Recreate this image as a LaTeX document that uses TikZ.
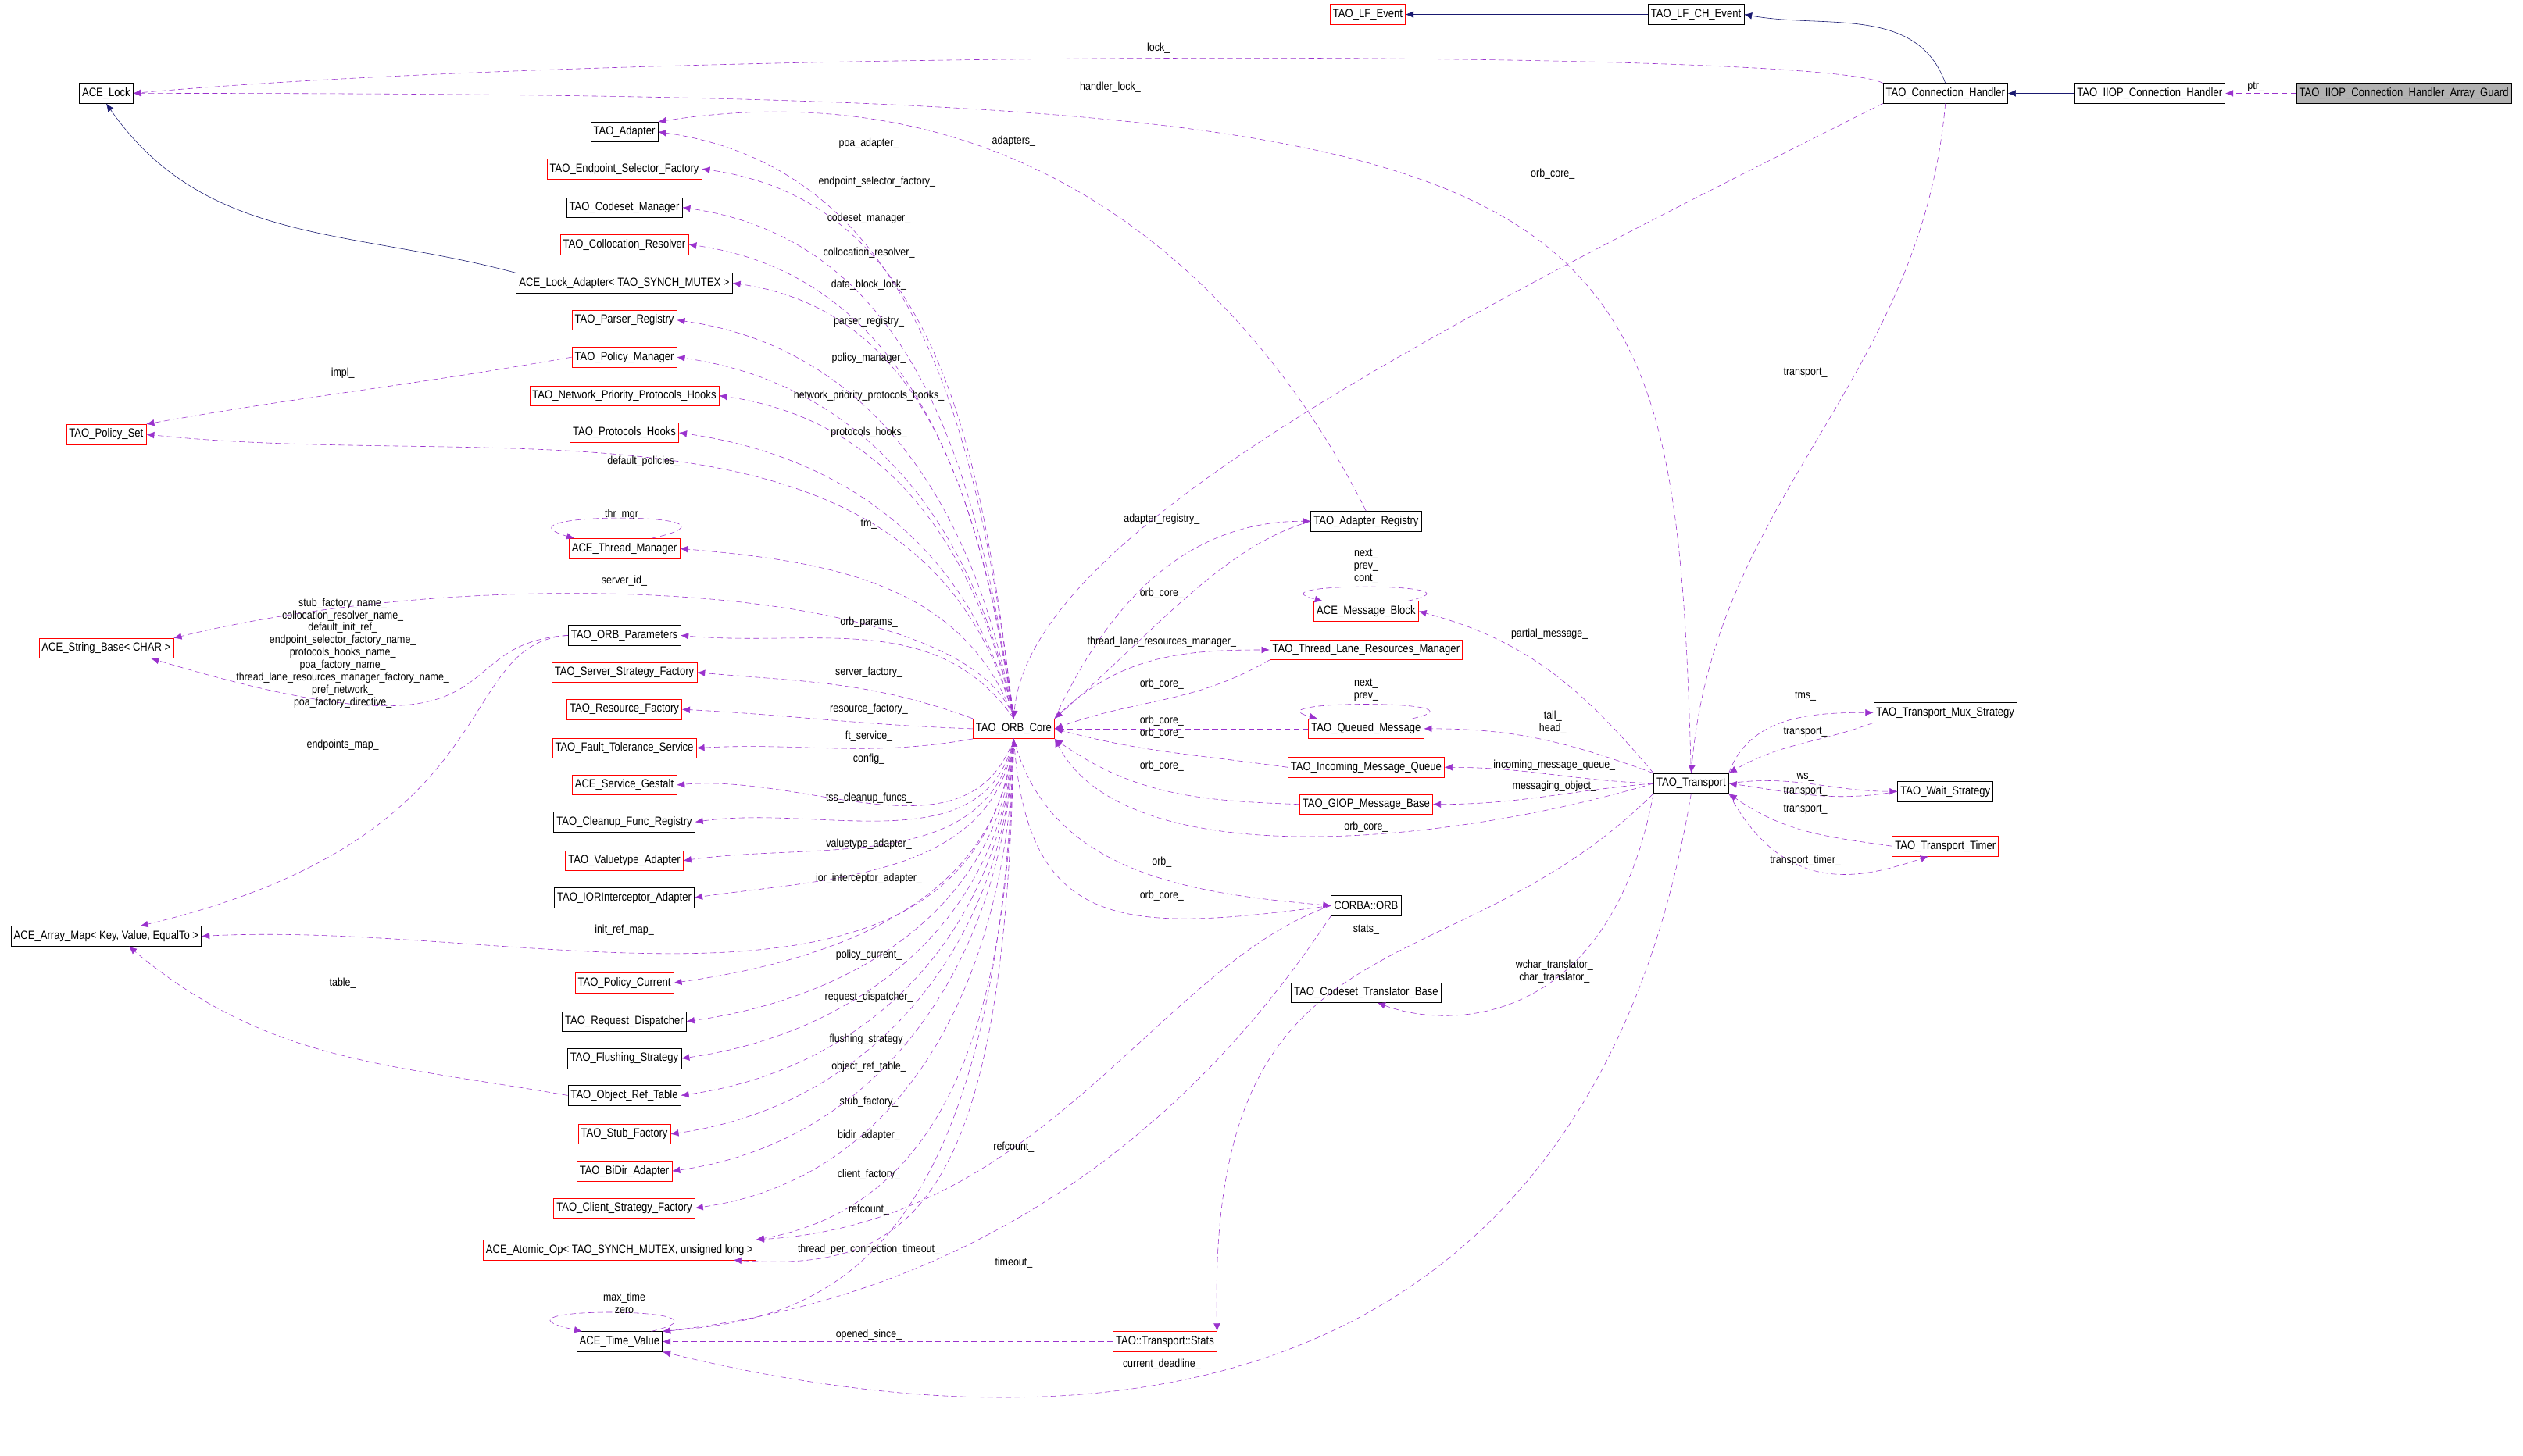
\documentclass[tikz,border=0pt]{standalone}
\usepackage{fontspec}
\setmainfont{Liberation Sans}[FakeStretch=0.86]
\usetikzlibrary{arrows.meta}
\definecolor{refcol}{HTML}{9A32CD}
\definecolor{inhcol}{HTML}{191970}
\tikzset{
  cls/.style={draw=black, fill=white, inner sep=2.5pt, minimum height=0.62cm, font=\fontsize{10.5}{11}\selectfont},
  rcls/.style={cls, draw=red},
  gcls/.style={cls, fill=gray!60},
  lbl/.style={inner sep=0pt, align=center, font=\fontsize{10}{11}\selectfont},
  ref/.style={draw=refcol, dash pattern=on 5pt off 3pt, -{Latex[length=7pt,width=6pt]}},
  inh/.style={draw=inhcol, -{Latex[length=7pt,width=6pt]}}
}
\begin{document}
\begin{tikzpicture}[x=0.05cm, y=-0.05cm]
  \useasboundingbox (0,0) rectangle (1568,905);
  % classes, top row
  \node[rcls] (lfev) at (850,9) {TAO\_LF\_Event};
  \node[cls] (lfch) at (1054,9) {TAO\_LF\_CH\_Event};
  \node[cls] (conh) at (1209,58) {TAO\_Connection\_Handler};
  \node[cls] (iiop) at (1336,58) {TAO\_IIOP\_Connection\_Handler};
  \node[gcls] (guard) at (1494,58) {TAO\_IIOP\_Connection\_Handler\_Array\_Guard};
  \node[cls] (lock) at (66,58) {ACE\_Lock};
  % left column
  \node[cls] (adapter) at (388,82) {TAO\_Adapter};
  \node[rcls] (esf) at (388,105) {TAO\_Endpoint\_Selector\_Factory};
  \node[cls] (csm) at (388,129) {TAO\_Codeset\_Manager};
  \node[rcls] (colres) at (388,152) {TAO\_Collocation\_Resolver};
  \node[cls] (lockad) at (388,176) {ACE\_Lock\_Adapter< TAO\_SYNCH\_MUTEX >};
  \node[rcls] (parser) at (388,199) {TAO\_Parser\_Registry};
  \node[rcls] (polmgr) at (388,222) {TAO\_Policy\_Manager};
  \node[rcls] (nph) at (388,246) {TAO\_Network\_Priority\_Protocols\_Hooks};
  \node[rcls] (ph) at (388,269) {TAO\_Protocols\_Hooks};
  \node[rcls] (polset) at (66,270) {TAO\_Policy\_Set};
  \node[rcls] (thr) at (388,341) {ACE\_Thread\_Manager};
  \node[rcls] (strbase) at (66,403) {ACE\_String\_Base< CHAR >};
  \node[cls] (params) at (388,395) {TAO\_ORB\_Parameters};
  \node[rcls] (ssf) at (388,418) {TAO\_Server\_Strategy\_Factory};
  \node[rcls] (rf) at (388,441) {TAO\_Resource\_Factory};
  \node[rcls] (fts) at (388,465) {TAO\_Fault\_Tolerance\_Service};
  \node[rcls] (gestalt) at (388,488) {ACE\_Service\_Gestalt};
  \node[cls] (cfr) at (388,511) {TAO\_Cleanup\_Func\_Registry};
  \node[rcls] (vta) at (388,535) {TAO\_Valuetype\_Adapter};
  \node[cls] (iora) at (388,558) {TAO\_IORInterceptor\_Adapter};
  \node[cls] (amap) at (66,582) {ACE\_Array\_Map< Key, Value, EqualTo >};
  \node[rcls] (pcur) at (388,611) {TAO\_Policy\_Current};
  \node[cls] (rdisp) at (388,635) {TAO\_Request\_Dispatcher};
  \node[cls] (flush) at (388,658) {TAO\_Flushing\_Strategy};
  \node[cls] (ort) at (388,681) {TAO\_Object\_Ref\_Table};
  \node[rcls] (stubf) at (388,705) {TAO\_Stub\_Factory};
  \node[rcls] (bidir) at (388,728) {TAO\_BiDir\_Adapter};
  \node[rcls] (csf) at (388,751) {TAO\_Client\_Strategy\_Factory};
  \node[rcls] (atomic) at (385,777) {ACE\_Atomic\_Op< TAO\_SYNCH\_MUTEX, unsigned long >};
  \node[cls] (timev) at (385,834) {ACE\_Time\_Value};
  \node[rcls] (core) at (630,453) {TAO\_ORB\_Core};
  % middle column
  \node[cls] (areg) at (849,324) {TAO\_Adapter\_Registry};
  \node[rcls] (mblock) at (849,380) {ACE\_Message\_Block};
  \node[rcls] (tlrm) at (849,404) {TAO\_Thread\_Lane\_Resources\_Manager};
  \node[rcls] (qmsg) at (849,453) {TAO\_Queued\_Message};
  \node[rcls] (imq) at (849,477) {TAO\_Incoming\_Message\_Queue};
  \node[rcls] (giop) at (849,500) {TAO\_GIOP\_Message\_Base};
  \node[cls] (orb) at (849,563) {CORBA::ORB};
  \node[cls] (cstb) at (849,617) {TAO\_Codeset\_Translator\_Base};
  \node[rcls] (stats) at (724,834) {TAO::Transport::Stats};
  \node[cls] (trans) at (1051,487) {TAO\_Transport};
  \node[cls] (mux) at (1209,443) {TAO\_Transport\_Mux\_Strategy};
  \node[cls] (wait) at (1209,492) {TAO\_Wait\_Strategy};
  \node[rcls] (timer) at (1209,526) {TAO\_Transport\_Timer};

  % inheritance
  \draw[inh] (lfch) -- (lfev);
  \draw[inh] (conh.north) to[out=110,in=-10] (lfch.east);
  \draw[inh] (iiop) -- (conh);
  \draw[inh] (lockad.north west) to[out=165,in=-55] (lock.south);

  % top references
  \draw[ref] (guard) -- (iiop);
  \node[lbl] (lptr) at (1402,54) {ptr\_};
  \draw[ref] (conh.north west) .. controls (1130,30) and (400,30) .. (lock.east);
  \node[lbl] (llock) at (720,30) {lock\_};
  \draw[ref] (trans.north) .. controls (1040,90) and (1010,58) .. (lock.east);
  \node[lbl] (lhlock) at (690,54) {handler\_lock\_};
  \draw[ref] (conh.south west) .. controls (900,200) and (640,330) .. (core.north);
  \node[lbl] (lcore1) at (965,108) {orb\_core\_};
  \draw[ref] (conh.south) to[out=-95,in=85] (trans.north);
  \node[lbl] (ltr1) at (1122,232) {transport\_};
  \draw[ref] (areg.north) .. controls (780,180) and (640,40) .. (adapter.north east);
  \node[lbl] (ladapters) at (630,88) {adapters\_};

  % ORB core to left column
  \draw[ref] (core.north) to[out=97,in=-8] (adapter.east);
  \draw[ref] (core.north) to[out=97,in=-8] (esf.east);
  \draw[ref] (core.north) to[out=98,in=-8] (csm.east);
  \draw[ref] (core.north) to[out=98,in=-8] (colres.east);
  \draw[ref] (core.north) to[out=99,in=-8] (lockad.east);
  \draw[ref] (core.north) to[out=100,in=-8] (parser.east);
  \draw[ref] (core.north) to[out=101,in=-8] (polmgr.east);
  \draw[ref] (core.north) to[out=102,in=-8] (nph.east);
  \draw[ref] (core.north) to[out=104,in=-8] (ph.east);
  \draw[ref] (core.north) to[out=105,in=-6] (polset.east);
  \draw[ref] (core.north) to[out=110,in=-5] (thr.east);
  \draw[ref] (core.north) .. controls (600,360) and (300,350) .. (strbase.north east);
  \draw[ref] (core.north) to[out=125,in=-5] (params.east);
  \draw[ref] (core.north west) to[out=160,in=-5] (ssf.east);
  \draw[ref] (core.west) to[out=178,in=-3] (rf.east);
  \draw[ref] (core.south west) to[out=190,in=3] (fts.east);
  \draw[ref] (core.south) to[out=-110,in=5] (gestalt.east);
  \draw[ref] (core.south) to[out=-103,in=8] (cfr.east);
  \draw[ref] (core.south) to[out=-100,in=8] (vta.east);
  \draw[ref] (core.south) to[out=-98,in=8] (iora.east);
  \draw[ref] (core.south) to[out=-97,in=3] (amap.east);
  \draw[ref] (core.south) to[out=-95,in=8] (pcur.east);
  \draw[ref] (core.south) to[out=-94,in=8] (rdisp.east);
  \draw[ref] (core.south) to[out=-93,in=8] (flush.east);
  \draw[ref] (core.south) to[out=-93,in=8] (ort.east);
  \draw[ref] (core.south) to[out=-92,in=8] (stubf.east);
  \draw[ref] (core.south) to[out=-92,in=8] (bidir.east);
  \draw[ref] (core.south) to[out=-91,in=8] (csf.east);
  \draw[ref] (core.south) to[out=-91,in=10] (atomic.north east);
  \draw[ref] (core.south) .. controls (625,760) and (560,790) .. ([xshift=-20pt]atomic.south east);
  \draw[ref] (core.south) .. controls (620,800) and (500,820) .. (timev.north east);
  \node[lbl] (l01) at (540,89) {poa\_adapter\_};
  \node[lbl] (l02) at (545,113) {endpoint\_selector\_factory\_};
  \node[lbl] (l03) at (540,136) {codeset\_manager\_};
  \node[lbl] (l04) at (540,157) {collocation\_resolver\_};
  \node[lbl] (l05) at (540,177) {data\_block\_lock\_};
  \node[lbl] (l06) at (540,200) {parser\_registry\_};
  \node[lbl] (l07) at (540,223) {policy\_manager\_};
  \node[lbl] (l08) at (540,246) {network\_priority\_protocols\_hooks\_};
  \node[lbl] (l09) at (540,269) {protocols\_hooks\_};
  \node[lbl] (l10) at (400,287) {default\_policies\_};
  \node[lbl] (l11) at (540,326) {tm\_};
  \node[lbl] (l12) at (388,361) {server\_id\_};
  \node[lbl] (l13) at (540,387) {orb\_params\_};
  \node[lbl] (l14) at (540,418) {server\_factory\_};
  \node[lbl] (l15) at (540,441) {resource\_factory\_};
  \node[lbl] (l16) at (540,458) {ft\_service\_};
  \node[lbl] (l17) at (540,472) {config\_};
  \node[lbl] (l18) at (540,496) {tss\_cleanup\_funcs\_};
  \node[lbl] (l19) at (540,525) {valuetype\_adapter\_};
  \node[lbl] (l20) at (540,546) {ior\_interceptor\_adapter\_};
  \node[lbl] (l21) at (388,578) {init\_ref\_map\_};
  \node[lbl] (l22) at (540,594) {policy\_current\_};
  \node[lbl] (l23) at (540,620) {request\_dispatcher\_};
  \node[lbl] (l24) at (540,646) {flushing\_strategy\_};
  \node[lbl] (l25) at (540,663) {object\_ref\_table\_};
  \node[lbl] (l26) at (540,685) {stub\_factory\_};
  \node[lbl] (l27) at (540,706) {bidir\_adapter\_};
  \node[lbl] (l28) at (540,730) {client\_factory\_};
  \node[lbl] (l29) at (540,752) {refcount\_};
  \node[lbl] (l30) at (540,777) {thread\_per\_connection\_timeout\_};

  % left side among classes
  \draw[ref] (polmgr.west) to[out=190,in=10] (polset.north east);
  \node[lbl] (limpl) at (213,232) {impl\_};
  \draw[ref] (params.west) .. controls (270,400) and (330,480) .. ([xshift=-20pt]strbase.south east);
  \node[lbl] (lnames) at (213,406) {stub\_factory\_name\_\\collocation\_resolver\_name\_\\default\_init\_ref\_\\endpoint\_selector\_factory\_name\_\\protocols\_hooks\_name\_\\poa\_factory\_name\_\\thread\_lane\_resources\_manager\_factory\_name\_\\pref\_network\_\\poa\_factory\_directive\_};
  \draw[ref] (params.west) .. controls (280,400) and (320,520) .. ([xshift=30pt]amap.north);
  \node[lbl] (lemap) at (213,463) {endpoints\_map\_};
  \draw[ref] (ort.west) to[out=170,in=-40] ([xshift=20pt]amap.south);
  \node[lbl] (ltable) at (213,611) {table\_};

  % self loops
  \draw[ref] ([xshift=-25pt]thr.north east) .. controls (480,318) and (300,318) .. ([xshift=5pt]thr.north west);
  \node[lbl] (lthr) at (388,320) {thr\_mgr\_};
  \draw[ref] ([xshift=-10pt]mblock.north east) .. controls (930,362) and (775,362) .. ([xshift=8pt]mblock.north west);
  \node[lbl] (lmb) at (849,352) {next\_\\prev\_\\cont\_};
  \draw[ref] ([xshift=-10pt]qmsg.north east) .. controls (930,435) and (775,435) .. ([xshift=8pt]qmsg.north west);
  \node[lbl] (lqm) at (849,429) {next\_\\prev\_};
  \draw[ref] ([xshift=-10pt]timev.north east) .. controls (470,812) and (290,812) .. ([xshift=5pt]timev.north west);
  \node[lbl] (ltv) at (388,810) {max\_time\\zero};

  % ORB core and middle column
  \draw[ref] (core.north east) to[out=65,in=180] (areg.west);
  \node[lbl] (l31) at (722,323) {adapter\_registry\_};
  \draw[ref] (areg.west) .. controls (760,340) and (720,390) .. (core.north east);
  \node[lbl] (l32) at (722,369) {orb\_core\_};
  \draw[ref] (core.north east) to[out=45,in=180] (tlrm.west);
  \node[lbl] (l33) at (722,399) {thread\_lane\_resources\_manager\_};
  \draw[ref] (tlrm.south west) to[out=210,in=20] (core.east);
  \node[lbl] (l34) at (722,425) {orb\_core\_};
  \draw[ref] (qmsg.west) -- (core.east);
  \node[lbl] (l35) at (722,452) {orb\_core\_\\orb\_core\_};
  \draw[ref] (imq.west) to[out=172,in=-15] (core.east);
  \node[lbl] (l36) at (722,476) {orb\_core\_};
  \draw[ref] (giop.west) to[out=178,in=-35] (core.south east);
  \draw[ref] (trans.west) .. controls (900,525) and (700,545) .. (core.south east);
  \node[lbl] (l37) at (849,514) {orb\_core\_};
  \draw[ref] (core.south) to[out=-75,in=175] (orb.west);
  \node[lbl] (l38) at (722,536) {orb\_};
  \draw[ref] (orb.west) .. controls (700,580) and (640,580) .. (core.south);
  \node[lbl] (l39) at (722,557) {orb\_core\_};
  \draw[ref] (orb.west) .. controls (720,600) and (650,760) .. (atomic.north east);
  \node[lbl] (l40) at (630,713) {refcount\_};
  \draw[ref] (orb.south west) .. controls (780,640) and (660,800) .. (timev.north east);
  \node[lbl] (l41) at (630,785) {timeout\_};
  \draw[ref] (stats) -- (timev);
  \node[lbl] (l42) at (540,830) {opened\_since\_};

  % transport
  \draw[ref] (trans.north west) to[out=130,in=-15] (mblock.east);
  \node[lbl] (l43) at (963,394) {partial\_message\_};
  \draw[ref] (trans.north west) to[out=160,in=0] (qmsg.east);
  \node[lbl] (l44) at (965,449) {tail\_\\head\_};
  \draw[ref] (trans.west) to[out=178,in=0] (imq.east);
  \node[lbl] (l45) at (966,476) {incoming\_message\_queue\_};
  \draw[ref] (trans.west) to[out=185,in=0] (giop.east);
  \node[lbl] (l46) at (966,489) {messaging\_object\_};
  \draw[ref] (trans.north east) to[out=70,in=180] (mux.west);
  \node[lbl] (l47) at (1122,433) {tms\_};
  \draw[ref] (mux.south west) to[out=200,in=30] (trans.north east);
  \node[lbl] (l48) at (1122,455) {transport\_};
  \draw[ref] (trans.east) to[out=8,in=180] (wait.west);
  \node[lbl] (l49) at (1122,483) {ws\_};
  \draw[ref] (wait.west) to[out=190,in=-8] (trans.east);
  \node[lbl] (l50) at (1122,492) {transport\_};
  \draw[ref] (timer.west) to[out=172,in=-35] (trans.south east);
  \node[lbl] (l51) at (1122,503) {transport\_};
  \draw[ref] (trans.south east) .. controls (1110,560) and (1160,545) .. ([xshift=-15pt]timer.south);
  \node[lbl] (l52) at (1122,535) {transport\_timer\_};
  \draw[ref] (trans.south west) .. controls (900,620) and (750,560) .. (stats.north east);
  \node[lbl] (l53) at (849,578) {stats\_};
  \draw[ref] (trans.south west) .. controls (1000,640) and (900,640) .. ([xshift=10pt]cstb.south);
  \node[lbl] (l54) at (966,604) {wchar\_translator\_\\char\_translator\_};
  \draw[ref] (trans.south) .. controls (1000,800) and (780,930) .. (timev.south east);
  \node[lbl] (l55) at (722,848) {current\_deadline\_};
\end{tikzpicture}
\end{document}
